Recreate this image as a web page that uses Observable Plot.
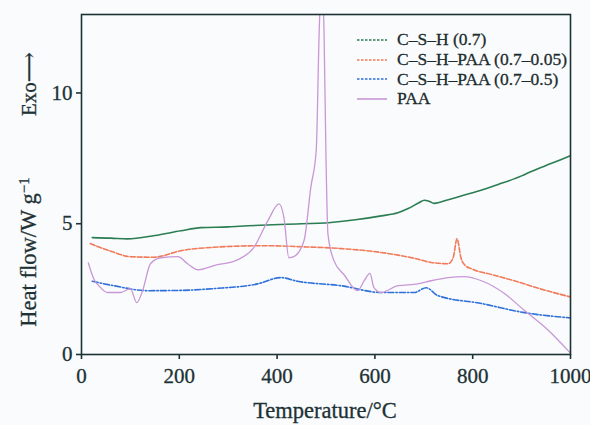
<!DOCTYPE html>
<html><head><meta charset="utf-8">
<script src="https://cdn.jsdelivr.net/npm/d3@7"></script>
<script src="https://cdn.jsdelivr.net/npm/@observablehq/plot@0.6"></script>
<style>
html,body{margin:0;padding:0;background:#fafbfd;}
#wrap{position:relative;width:590px;height:425px;font-family:"Liberation Serif","DejaVu Serif",serif;}
#wrap svg text{font-family:"Liberation Serif","DejaVu Serif",serif !important;stroke:#1d3235;stroke-width:0.3px;}
#legend{position:absolute;left:357px;top:30px;color:#1b2c2e;}
#legend .row{display:flex;align-items:center;white-space:nowrap;height:19.7px;}
#legend span{font-size:17.5px;font-family:"Liberation Serif",serif;-webkit-text-stroke:0.3px #1b2c2e;}
#legend svg{margin-right:10px;}
</style></head>
<body><div id="wrap"></div>
<script>
const seriesNames = ["C–S–H (0.7)", "C–S–H–PAA (0.7–0.05)", "C–S–H–PAA (0.7–0.5)", "PAA"];
const seriesColors = ["#2b7d52", "#f27a58", "#2e6fd9", "#c897d6"];
const seriesDash = ["none", "5,2", "6,2,1.5,2", "none"];

const cshT = [22, 60, 94, 150, 203, 244, 300, 340, 420, 510, 560, 613, 647, 668, 690, 701, 712, 721, 750, 783, 820, 852, 900, 920, 960, 1000];
const cshH = [4.47, 4.45, 4.42, 4.55, 4.73, 4.85, 4.88, 4.92, 4.98, 5.05, 5.15, 5.3, 5.42, 5.58, 5.8, 5.9, 5.85, 5.78, 5.92, 6.1, 6.3, 6.5, 6.83, 7.0, 7.3, 7.6];

const p005T = [18, 60, 100, 148, 203, 271, 373, 450, 531, 613, 680, 715, 750, 760, 768, 776, 785, 797, 840, 885, 940, 1000];
const p005H = [4.24, 3.95, 3.74, 3.72, 3.97, 4.1, 4.16, 4.12, 4.05, 3.9, 3.68, 3.52, 3.47, 3.7, 4.42, 3.7, 3.4, 3.28, 3.05, 2.82, 2.5, 2.2];

const p05T = [22, 66, 135, 200, 271, 360, 408, 442, 531, 613, 680, 705, 729, 818, 906, 1000];
const p05H = [2.8, 2.63, 2.44, 2.45, 2.52, 2.7, 2.94, 2.8, 2.63, 2.37, 2.37, 2.55, 2.25, 1.95, 1.6, 1.4];

const paaT = [14, 25, 39, 53, 80, 100, 113, 125, 141, 162, 197, 217, 238, 271, 320, 352, 381, 404, 414, 424, 434, 455, 469, 480, 486, 491, 496, 500, 504, 516, 537, 565, 578, 590, 598, 613, 647, 688, 715, 750, 783, 818, 865, 906, 955, 1000];
const paaH = [3.5, 2.9, 2.56, 2.37, 2.37, 2.52, 1.98, 2.44, 3.47, 3.7, 3.74, 3.47, 3.24, 3.4, 3.63, 4.08, 5.11, 5.76, 5.23, 3.7, 3.74, 4.35, 6.4, 7.8, 12.3, 14.5, 12.3, 7.5, 4.6, 3.6, 3.05, 2.44, 2.82, 3.1, 2.56, 2.37, 2.63, 2.7, 2.82, 2.94, 2.98, 2.82, 2.33, 1.68, 0.92, 0.05];

const xTicks = [0, 200, 400, 600, 800, 1000];
const yTicks = [0, 5, 10];

const tables = [[cshT, cshH], [p005T, p005H], [p05T, p05H], [paaT, paaH]].map(([T, H], i) =>
  T.map((t, j) => ({t, h: H[j], s: seriesNames[i]})));

const ink = "#1d3235";
const serif = "Liberation Serif";
const lineMarks = tables.map((d, i) => Plot.line(d, {
  x: "t", y: "h", stroke: seriesColors[i], strokeWidth: i === 3 ? 1.3 : 1.6,
  strokeDasharray: seriesDash[i], curve: "monotone-x", clip: true
}));

const chart = Plot.plot({
  width: 590, height: 425,
  marginLeft: 81, marginRight: 20, marginTop: 14, marginBottom: 71,
  style: {background: "transparent", fontFamily: serif, fontSize: "21px", color: ink},
  x: {domain: [0, 1000], label: null},
  y: {domain: [0, 13], label: null},
  marks: [
    ...lineMarks,
    Plot.frame({stroke: ink, strokeWidth: 1.6}),
    Plot.axisX({ticks: xTicks, tickFormat: d3.format("d"), tickSize: 5, tickPadding: 9, label: null, stroke: ink, strokeWidth: 1.6, fontSize: 21, fontFamily: serif}),
    Plot.axisY({ticks: yTicks, tickFormat: d3.format("d"), tickSize: 5, tickPadding: 4, label: null, stroke: ink, strokeWidth: 1.6, fontSize: 21, fontFamily: serif})
  ]
});
document.getElementById("wrap").appendChild(chart);

const svg = d3.select(chart);
const yl = svg.append("text").attr("transform", "translate(36,252) rotate(-90)")
  .attr("text-anchor", "middle").attr("fill", ink).style("font-size", "22.5px");
yl.append("tspan").text("Heat flow/W g");
yl.append("tspan").attr("dy", "-0.45em").style("font-size", "15px").text("−1");
svg.append("text").attr("transform", "translate(36,84) rotate(-90)")
  .attr("text-anchor", "middle").attr("fill", ink).style("font-size", "21px").text("Exo⟶");
svg.append("text").attr("x", 325).attr("y", 418)
  .attr("text-anchor", "middle").attr("fill", ink).style("font-size", "22.5px").text("Temperature/°C");

const legend = d3.select("#wrap").append("div").attr("id", "legend");
seriesNames.forEach((name, i) => {
  const row = legend.append("div").attr("class", "row");
  const s = row.append("svg").attr("width", 30).attr("height", 8);
  s.append("line").attr("x1", 0).attr("x2", 30).attr("y1", 4).attr("y2", 4)
    .attr("stroke", seriesColors[i]).attr("stroke-width", 1.6)
    .attr("stroke-dasharray", i === 3 ? "none" : "2.5,1.5");
  row.append("span").text(name);
});
</script></body></html>
